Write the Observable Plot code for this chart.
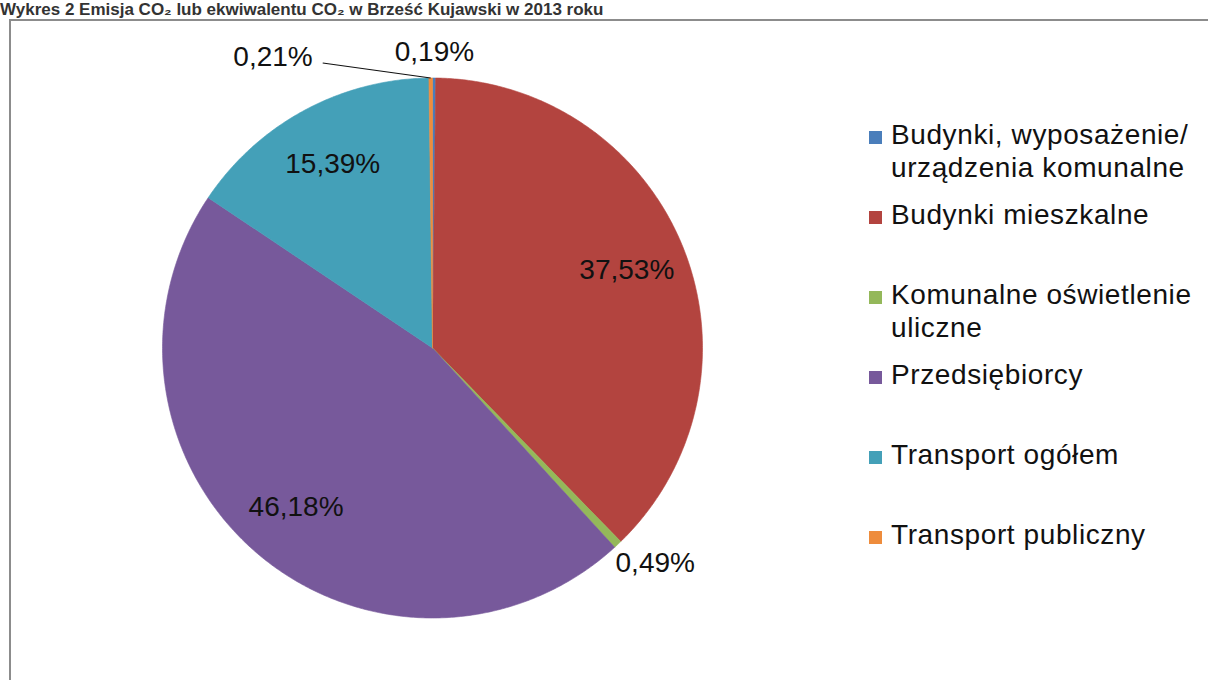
<!DOCTYPE html>
<html><head><meta charset="utf-8">
<script src="https://cdn.jsdelivr.net/npm/d3@7"></script>
<script src="https://cdn.jsdelivr.net/npm/@observablehq/plot@0.6"></script>
<style>
html,body{margin:0;padding:0;background:#fff;}
body{position:relative;width:1208px;height:680px;overflow:hidden;font-family:"Liberation Sans",Arial,sans-serif;}
#title{position:absolute;left:0;top:0;font-weight:bold;font-size:17px;line-height:19px;color:#333;white-space:nowrap;}
#frame{position:absolute;left:9px;top:19px;width:1300px;height:800px;border-top:2px solid #8c8c8c;border-left:2px solid #8c8c8c;}
#chart{position:absolute;left:0;top:0;}
#legend{position:absolute;left:0;top:0;}
.item{position:absolute;left:869px;font-size:28px;line-height:33px;color:#111;letter-spacing:0.6px;}
.sw{position:absolute;left:0;top:13px;width:13px;height:13px;}
.txt{position:absolute;left:22px;width:316px;}
</style>
</head>
<body>
<div id="title">Wykres 2 Emisja CO₂ lub ekwiwalentu CO₂ w Brześć Kujawski w 2013 roku</div>
<div id="chart"></div>
<div id="frame"></div>
<div id="legend"></div>
<script>
// ---- data ----
const categories = [
  "Budynki, wyposażenie/urządzenia komunalne",
  "Budynki mieszkalne",
  "Komunalne oświetlenie uliczne",
  "Przedsiębiorcy",
  "Transport ogółem",
  "Transport publiczny"
];
const shares = [0.19, 37.53, 0.49, 46.18, 15.39, 0.21];
const colors = ["#4a7ebb", "#b3443f", "#94b85a", "#77599b", "#44a0b8", "#ee8c3c"];

// ---- layout ----
const cx = 432, cy = 347.5, R = 270;
const FONT = '"Liberation Sans", Arial, sans-serif';
const FS = 28;
const loc = d3.formatLocale({decimal: ",", thousands: " ", grouping: [3], currency: ["", " zł"]});
const fmt = v => loc.format(".2f")(v) + "%";

const ctx = document.createElement("canvas").getContext("2d");
ctx.font = `${FS}px ${FONT}`;

const arcs = d3.pie().sort(null).value(d => d)(shares);

// slice polygons in unit-circle coordinates (y down)
const slices = arcs.map((a, i) => {
  const pts = [[0, 0]];
  const n = Math.max(2, Math.ceil((a.endAngle - a.startAngle) / (Math.PI / 360)));
  for (let k = 0; k <= n; k++) {
    const t = a.startAngle + (a.endAngle - a.startAngle) * k / n;
    pts.push([Math.sin(t), -Math.cos(t)]);
  }
  pts.push([0, 0]);
  return {i, pts};
});

// labels
const textsC = [], textsE = [], leaders = [];
const placed = [];
arcs.forEach((a, i) => {
  const m = (a.startAngle + a.endAngle) / 2;
  const s = Math.sin(m), c = -Math.cos(m);
  const t = fmt(shares[i]);
  const w = ctx.measureText(t).width / R, h = (FS * 0.8) / R;
  if (shares[i] >= 1) {
    textsC.push({x: 0.775 * s, y: 0.775 * c, t});
    return;
  }
  const r0 = 1 + 15 / R;
  let x = r0 * s + (w / 2) * s, y = r0 * c + (h / 2) * c;
  const box = {x0: x - w / 2, x1: x + w / 2, y0: y - h / 2, y1: y + h / 2};
  const hit = placed.some(b => box.x0 < b.x1 && box.x1 > b.x0 && box.y0 < b.y1 && box.y1 > b.y0);
  if (!hit) {
    placed.push(box);
    textsC.push({x, y, t});
  } else {
    // move to the left with a leader line
    const ax = s, ay = c;
    const ex = ax - 118 / R, ey = ay - 21 / R;
    textsE.push({x: ex, y: ey, t});
    leaders.push({x1: ex + 10 / R, y1: ey + 6 / R, x2: ax, y2: ay});
  }
});

const marks = [
  ...slices.map(sl => Plot.line(sl.pts, {
    x: d => d[0], y: d => d[1], fill: colors[sl.i], stroke: colors[sl.i], strokeWidth: 0.6, curve: "linear"
  })),
  Plot.link(leaders, {x1: "x1", y1: "y1", x2: "x2", y2: "y2", stroke: "#111", strokeWidth: 1.2}),
  Plot.text(textsC, {x: "x", y: "y", text: "t", fontSize: FS, fill: "#111", textAnchor: "middle"}),
  Plot.text(textsE, {x: "x", y: "y", text: "t", fontSize: FS, fill: "#111", textAnchor: "end"})
];

const chart = Plot.plot({
  width: 1208, height: 680, margin: 0,
  x: {domain: [-1, 1], range: [cx - R, cx + R], axis: null},
  y: {domain: [-1, 1], range: [cy - R, cy + R], axis: null},
  style: {background: "transparent", fontFamily: FONT, overflow: "visible"},
  marks
});
document.getElementById("chart").appendChild(chart);

// legend
const lg = document.getElementById("legend");
categories.forEach((name, i) => {
  const it = document.createElement("div");
  it.className = "item";
  it.style.top = (118 + 80 * i) + "px";
  const sw = document.createElement("div");
  sw.className = "sw";
  sw.style.background = colors[i];
  const tx = document.createElement("div");
  tx.className = "txt";
  tx.textContent = name.replace("/", "/\u200B");
  it.appendChild(sw); it.appendChild(tx);
  lg.appendChild(it);
});
</script>
</body></html>
